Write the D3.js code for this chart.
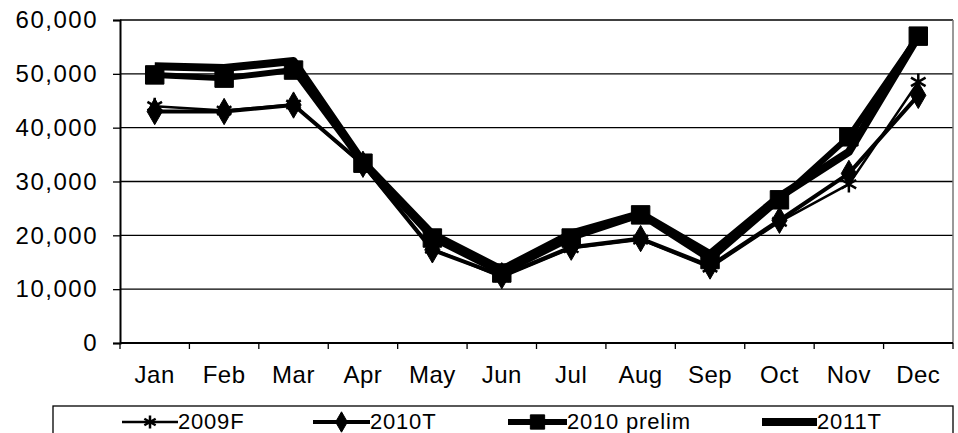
<!DOCTYPE html>
<html>
<head>
<meta charset="utf-8">
<script src="https://cdn.jsdelivr.net/npm/d3@7"></script>
<style>
  body { margin: 0; background: #fff; }
  svg { font-family: "Liberation Sans", Arial, sans-serif; }
</style>
</head>
<body>
<svg id="chart"></svg>
<script>
// months along the bottom
var months = ["Jan", "Feb", "Mar", "Apr", "May", "Jun", "Jul", "Aug", "Sep", "Oct", "Nov", "Dec"];

// series values
var s2009F = [44000, 43200, 44300, 33000, 17500, 12200, 17600, 19200, 14000, 22500, 29500, 48500];
var s2010T = [43000, 43000, 44200, 33200, 17300, 12500, 17800, 19400, 14300, 22800, 31500, 46000];
var s2010prelim = [49800, 49200, 50700, 33400, 19500, 13000, 19500, 23800, 15500, 26600, 38300, 57000];
var s2011T = [51400, 51100, 52400, 33600, 20200, 13600, 20300, 24000, 16500, 27200, 35500, 57000];

var yTicks = [0, 10000, 20000, 30000, 40000, 50000, 60000];

var width = 958, height = 433;
var plotL = 120, plotR = 953, plotT = 20, plotB = 343;

var svg = d3.select("#chart").attr("width", width).attr("height", height);

// scales
var x = d3.scaleBand().domain(months).range([plotL, plotR]).padding(0);
var y = d3.scaleLinear().domain([0, 60000]).range([plotB, plotT]);
var xc = function (m) { return x(m) + x.bandwidth() / 2; };

// gridlines
svg.append("g").selectAll("line")
    .data(yTicks.slice(1))
    .enter().append("line")
    .attr("x1", plotL).attr("x2", plotR)
    .attr("y1", function (d) { return y(d); })
    .attr("y2", function (d) { return y(d); })
    .attr("stroke", "#000").attr("stroke-width", 1.3);

// right border of the plot area
svg.append("line")
    .attr("x1", plotR).attr("x2", plotR).attr("y1", plotT).attr("y2", plotB)
    .attr("stroke", "#777").attr("stroke-width", 1.5);

// y axis
var yAxis = svg.append("g")
    .attr("transform", "translate(" + plotL + ",0)")
    .call(d3.axisLeft(y).tickValues(yTicks).tickSize(7).tickPadding(15)
        .tickFormat(d3.format(",")));
yAxis.select(".domain").attr("stroke", "#000").attr("stroke-width", 2);
yAxis.selectAll(".tick line").attr("stroke", "#000").attr("stroke-width", 1.3);
yAxis.selectAll("text")
    .attr("font-size", 24).attr("fill", "#000")
    .attr("letter-spacing", 1.5)
    .attr("font-family", "Liberation Sans, Arial, sans-serif");

// x axis, ticks between categories
var xAxis = svg.append("g")
    .attr("transform", "translate(0," + plotB + ")");
xAxis.append("line")
    .attr("x1", plotL).attr("x2", plotR).attr("y1", 0).attr("y2", 0)
    .attr("stroke", "#000").attr("stroke-width", 2);
xAxis.selectAll(".tk")
    .data(months.concat(["end"]))
    .enter().append("line")
    .attr("class", "tk")
    .attr("x1", function (d, i) { return plotL + i * x.bandwidth(); })
    .attr("x2", function (d, i) { return plotL + i * x.bandwidth(); })
    .attr("y1", 0).attr("y2", 6)
    .attr("stroke", "#000").attr("stroke-width", 1.3);
xAxis.selectAll("text")
    .data(months)
    .enter().append("text")
    .attr("x", xc)
    .attr("y", 40)
    .attr("text-anchor", "middle")
    .attr("font-size", 24)
    .attr("letter-spacing", 0.5)
    .text(function (d) { return d; });

// series setup
var series = [
    { name: "2009F", values: s2009F, lw: 2.5, symbol: d3.symbolAsterisk, size: 200, fill: "none", sw: 2.5 },
    { name: "2010T", values: s2010T, lw: 4, symbol: d3.symbolDiamond, size: 200, fill: "#000", sw: 1 },
    { name: "2010 prelim", values: s2010prelim, lw: 6, symbol: d3.symbolSquare, size: 340, fill: "#000", sw: 1 },
    { name: "2011T", values: s2011T, lw: 8, symbol: null }
];

var line = d3.line()
    .x(function (d, i) { return xc(months[i]); })
    .y(function (d) { return y(d); });

series.forEach(function (s) {
    svg.append("path")
        .datum(s.values)
        .attr("d", line)
        .attr("fill", "none")
        .attr("stroke", "#000")
        .attr("stroke-width", s.lw)
        .attr("stroke-linejoin", "round");
    if (s.symbol) {
        svg.append("g").selectAll("path")
            .data(s.values)
            .enter().append("path")
            .attr("d", d3.symbol().type(s.symbol).size(s.size))
            .attr("transform", function (d, i) { return "translate(" + xc(months[i]) + "," + y(d) + ")"; })
            .attr("fill", s.fill)
            .attr("stroke", "#000")
            .attr("stroke-width", s.sw);
    }
});

// legend
var legend = svg.append("g");
legend.append("rect")
    .attr("x", 53).attr("y", 406).attr("width", 900).attr("height", 40)
    .attr("fill", "none").attr("stroke", "#000").attr("stroke-width", 1.3);

var legendX = [122, 313, 508, 762];
var legendW = [56, 57, 59, 55];
series.forEach(function (s, i) {
    var g = legend.append("g").attr("transform", "translate(" + legendX[i] + ",422)");
    g.append("line")
        .attr("x1", 0).attr("x2", legendW[i]).attr("y1", 0).attr("y2", 0)
        .attr("stroke", "#000").attr("stroke-width", s.lw);
    if (s.symbol) {
        g.append("path")
            .attr("d", d3.symbol().type(s.symbol).size(s.size * 0.6))
            .attr("transform", "translate(" + legendW[i] / 2 + ",0)")
            .attr("fill", s.fill)
            .attr("stroke", "#000")
            .attr("stroke-width", s.sw);
    }
    g.append("text")
        .attr("x", legendW[i]).attr("y", 7)
        .attr("font-size", 22)
        .attr("letter-spacing", 0.8)
        .text(s.name);
});
</script>
</body>
</html>
